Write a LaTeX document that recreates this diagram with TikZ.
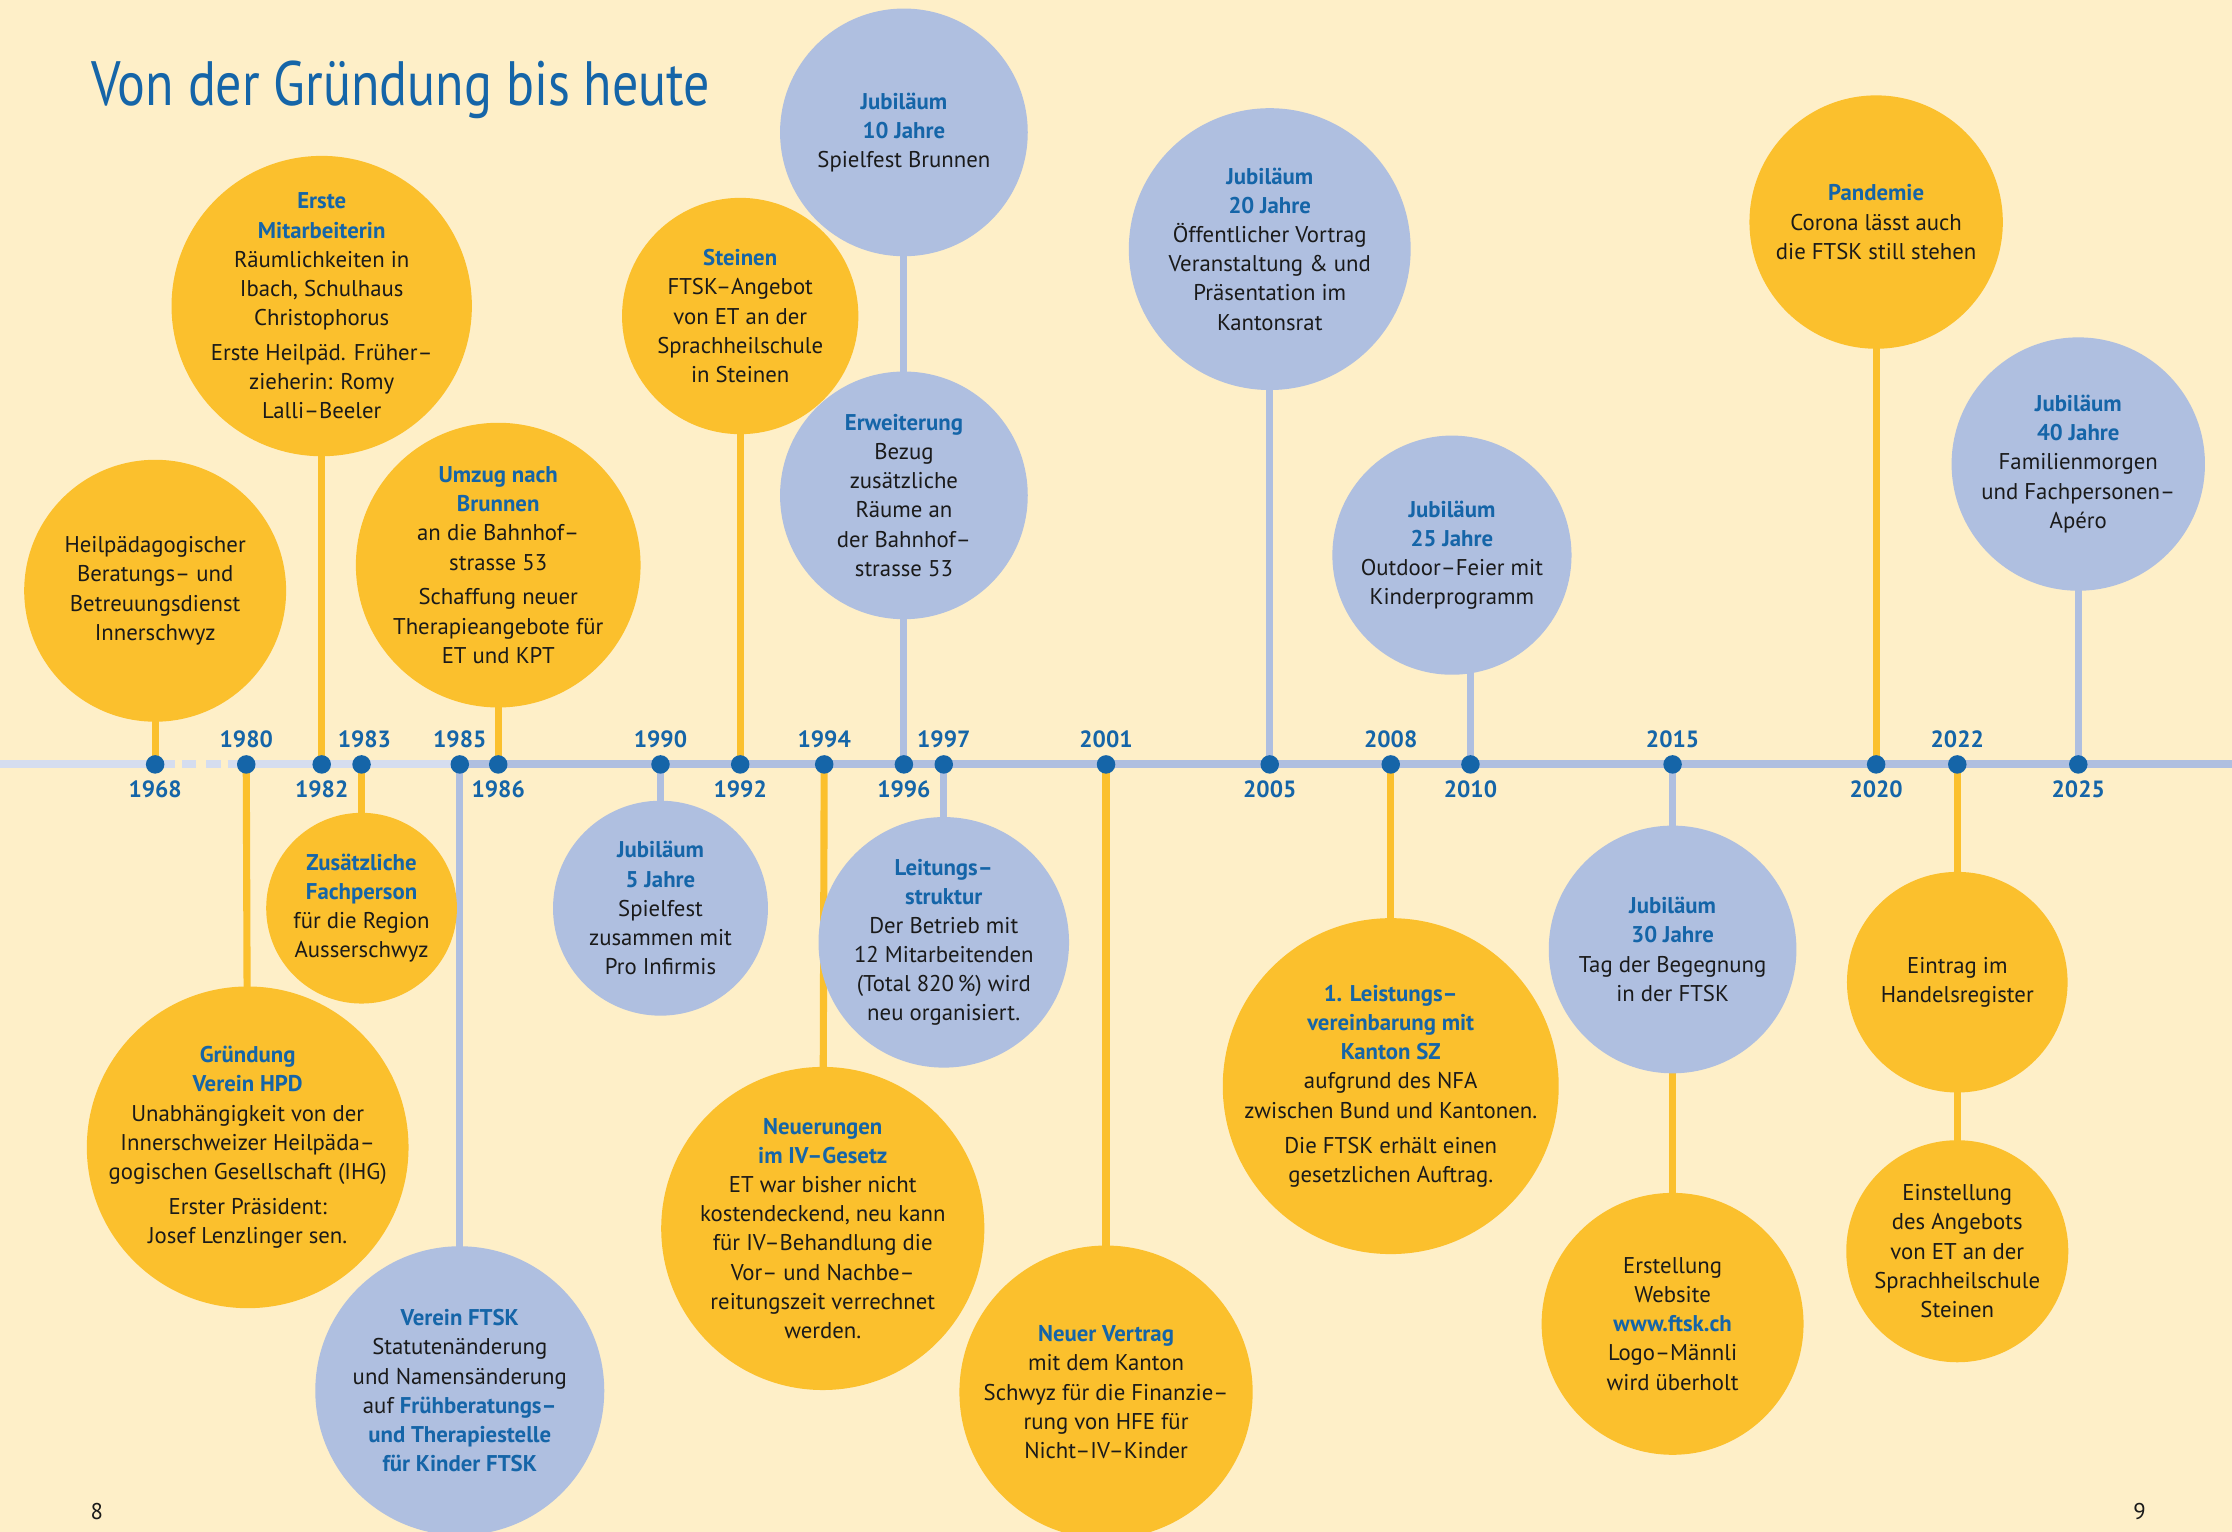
\documentclass[tikz,border=0pt]{standalone}
\usepackage{fontspec}
\setmainfont{PT Sans}
\newfontfamily\titlefont[FakeStretch=0.83]{PT Sans}
\usetikzlibrary{positioning,backgrounds}
\definecolor{cream}{HTML}{FEEFC8}
\definecolor{ftyellow}{HTML}{FBC02D}
\definecolor{ftblue}{HTML}{AFBFE0}
\definecolor{ftpale}{HTML}{D5DDEF}
\definecolor{ftdark}{HTML}{1565A8}
\definecolor{ftink}{HTML}{1A1A1A}
\newcommand{\evt}[1]{{\bfseries\color{ftdark}#1}}
\tikzset{
  bubble/.style={circle, inner sep=-40pt, align=center, text=ftink,
    font=\fontsize{16}{20.5}\selectfont},
  yelbub/.style={bubble, fill=ftyellow},
  blubub/.style={bubble, fill=ftblue},
  yeardot/.style={circle, fill=ftdark, minimum size=13pt, inner sep=0pt},
  yrlabel/.style={inner sep=0pt, text=ftdark, font=\fontsize{16.5}{18}\selectfont\bfseries},
  yconn/.style={ftyellow, line width=5pt},
  bconn/.style={ftblue, line width=5pt},
  axis/.style={line width=5.5pt}
}

\begin{document}
\begin{tikzpicture}[x=1pt, y=-1pt]
  \useasboundingbox (0,0) rectangle (1568,1076);

  % title and page numbers
  \node[anchor=base west, inner sep=0pt, text=ftdark, font=\titlefont\fontsize{44}{48}\selectfont] (title) at (64,74) {Von der Gründung bis heute};
  \node[text=ftink, font=\fontsize{16}{18}\selectfont] (pleft) at (68,1062) {8};
  \node[text=ftink, font=\fontsize{16}{18}\selectfont] (pright) at (1503,1062) {9};

  % dots on the time line
  \node[yeardot] (d1968) at (109,537) {};
  \node[yeardot] (d1980) at (173,537) {};
  \node[yeardot] (d1982) at (226,537) {};
  \node[yeardot] (d1983) at (254,537) {};
  \node[yeardot] (d1985) at (323,537) {};
  \node[yeardot] (d1986) at (350,537) {};
  \node[yeardot] (d1990) at (464,537) {};
  \node[yeardot] (d1992) at (520,537) {};
  \node[yeardot] (d1994) at (579,537) {};
  \node[yeardot] (d1996) at (635,537) {};
  \node[yeardot] (d1997) at (663,537) {};
  \node[yeardot] (d2001) at (777,537) {};
  \node[yeardot] (d2005) at (892,537) {};
  \node[yeardot] (d2008) at (977,537) {};
  \node[yeardot] (d2010) at (1033,537) {};
  \node[yeardot] (d2015) at (1175,537) {};
  \node[yeardot] (d2020) at (1318,537) {};
  \node[yeardot] (d2022) at (1375,537) {};
  \node[yeardot] (d2025) at (1460,537) {};

  % years
  \node[yrlabel, below=4.5pt of d1968] (t1968) {1968};
  \node[yrlabel, above=4.5pt of d1980] (t1980) {1980};
  \node[yrlabel, below=4.5pt of d1982] (t1982) {1982};
  \node[yrlabel, above=4.5pt of d1983, xshift=2pt] (t1983) {1983};
  \node[yrlabel, above=4.5pt of d1985] (t1985) {1985};
  \node[yrlabel, below=4.5pt of d1986] (t1986) {1986};
  \node[yrlabel, above=4.5pt of d1990] (t1990) {1990};
  \node[yrlabel, below=4.5pt of d1992] (t1992) {1992};
  \node[yrlabel, above=4.5pt of d1994] (t1994) {1994};
  \node[yrlabel, below=4.5pt of d1996] (t1996) {1996};
  \node[yrlabel, above=4.5pt of d1997] (t1997) {1997};
  \node[yrlabel, above=4.5pt of d2001] (t2001) {2001};
  \node[yrlabel, below=4.5pt of d2005] (t2005) {2005};
  \node[yrlabel, above=4.5pt of d2008] (t2008) {2008};
  \node[yrlabel, below=4.5pt of d2010] (t2010) {2010};
  \node[yrlabel, above=4.5pt of d2015] (t2015) {2015};
  \node[yrlabel, below=4.5pt of d2020] (t2020) {2020};
  \node[yrlabel, above=4.5pt of d2022] (t2022) {2022};
  \node[yrlabel, below=4.5pt of d2025] (t2025) {2025};

  % events above the line
  \node[yelbub, minimum size=184pt] (c1968) at (109,415)
    {Heilpädagogischer\\Beratungs– und\\Betreuungsdienst\\Innerschwyz};
  \node[yelbub, minimum size=211pt] (c1982) at (226,215)
    {\evt{Erste}\\\evt{Mitarbeiterin}\\Räumlichkeiten in\\Ibach, Schulhaus\\Christophorus\\[4pt]Erste Heilpäd. Früher–\\zieherin: Romy\\Lalli–Beeler};
  \node[yelbub, minimum size=200pt] (c1986) at (350,397)
    {\evt{Umzug nach}\\\evt{Brunnen}\\an die Bahnhof–\\strasse 53\\[4pt]Schaffung neuer\\Therapieangebote für\\ET und KPT};
  \node[yelbub, minimum size=166pt] (c1992) at (520,222)
    {\evt{Steinen}\\FTSK–Angebot\\von ET an der\\Sprachheilschule\\in Steinen};
  \node[blubub, minimum size=174pt] (c1996a) at (635,93)
    {\evt{Jubiläum}\\\evt{10 Jahre}\\Spielfest Brunnen};
  \node[blubub, minimum size=174pt] (c1996b) at (635,348)
    {\evt{Erweiterung}\\Bezug\\zusätzliche\\Räume an\\der Bahnhof–\\strasse 53};
  \node[blubub, minimum size=198pt] (c2005) at (892,175)
    {\evt{Jubiläum}\\\evt{20 Jahre}\\Öffentlicher Vortrag\\Veranstaltung \& und\\Präsentation im\\Kantonsrat};
  \node[blubub, minimum size=168pt] (c2010) at (1020,390)
    {\evt{Jubiläum}\\\evt{25 Jahre}\\Outdoor–Feier mit\\Kinderprogramm};
  \node[yelbub, minimum size=178pt] (c2020) at (1318,156)
    {\evt{Pandemie}\\Corona lässt auch\\die FTSK still stehen};
  \node[blubub, minimum size=178pt] (c2025) at (1460,326)
    {\evt{Jubiläum}\\\evt{40 Jahre}\\Familienmorgen\\und Fachpersonen–\\Apéro};

  % events below the line
  \node[yelbub, minimum size=226pt] (c1980) at (174,806)
    {\evt{Gründung}\\\evt{Verein HPD}\\Unabhängigkeit von der\\Innerschweizer Heilpäda–\\gogischen Gesellschaft (IHG)\\[4pt]Erster Präsident:\\Josef Lenzlinger sen.};
  \node[yelbub, minimum size=134pt] (c1983) at (254,638)
    {\evt{Zusätzliche}\\\evt{Fachperson}\\für die Region\\Ausserschwyz};
  \node[blubub, minimum size=203pt] (c1985) at (323,977)
    {\evt{Verein FTSK}\\Statutenänderung\\und Namensänderung\\auf \evt{Frühberatungs–}\\\evt{und Therapiestelle}\\\evt{für Kinder FTSK}};
  \node[blubub, minimum size=151pt] (c1990) at (464,638)
    {\evt{Jubiläum}\\\evt{5 Jahre}\\Spielfest\\zusammen mit\\Pro Infirmis};
  \node[yelbub, minimum size=227pt] (c1994) at (578,863)
    {\evt{Neuerungen}\\\evt{im IV–Gesetz}\\ET war bisher nicht\\kostendeckend, neu kann\\für IV–Behandlung die\\Vor– und Nachbe–\\reitungszeit verrechnet\\werden.};
  \node[blubub, minimum size=176pt] (c1997) at (663,662)
    {\evt{Leitungs–}\\\evt{struktur}\\Der Betrieb mit\\12 Mitarbeitenden\\(Total 820\,\%) wird\\neu organisiert.};
  \node[yelbub, minimum size=206pt] (c2001) at (777,978)
    {\evt{Neuer Vertrag}\\mit dem Kanton\\Schwyz für die Finanzie–\\rung von HFE für\\Nicht–IV–Kinder};
  \node[yelbub, minimum size=236pt] (c2008) at (977,763)
    {\evt{1. Leistungs–}\\\evt{vereinbarung mit}\\\evt{Kanton SZ}\\aufgrund des NFA\\zwischen Bund und Kantonen.\\[4pt]Die FTSK erhält einen\\gesetzlichen Auftrag.};
  \node[blubub, minimum size=174pt] (c2015a) at (1175,667)
    {\evt{Jubiläum}\\\evt{30 Jahre}\\Tag der Begegnung\\in der FTSK};
  \node[yelbub, minimum size=184pt] (c2015b) at (1175,930)
    {Erstellung\\Website\\\evt{www.ftsk.ch}\\Logo–Männli\\wird überholt};
  \node[yelbub, minimum size=155pt] (c2022a) at (1375,690)
    {Eintrag im\\Handelsregister};
  \node[yelbub, minimum size=156pt] (c2022b) at (1375,879)
    {Einstellung\\des Angebots\\von ET an der\\Sprachheilschule\\Steinen};

  \begin{scope}[on background layer]
    \fill[cream] (0,0) rectangle (1568,1076);
    % time line
    \draw[axis, ftpale] (0,537) -- (d1968.center);
    \draw[axis, ftpale, dash pattern=on 14pt off 5pt on 10pt off 7pt on 10pt off 5pt on 30pt off 1pt] (d1968.center) -- (d1980.center);
    \draw[axis, ftpale] (d1980.center) -- (d1985.center);
    \draw[axis, ftblue] (d1985.center) -- (1568,537);
    % connectors
    \draw[yconn] (d1968.center) -- (c1968.center);
    \draw[yconn] (d1982.center) -- (c1982.center);
    \draw[yconn] (d1986.center) -- (c1986.center);
    \draw[yconn] (d1992.center) -- (c1992.center);
    \draw[bconn] (d1996.center) -- (c1996b.center) -- (c1996a.center);
    \draw[bconn] (d2005.center) -- (c2005.center);
    \draw[bconn] (d2010.center) -- (d2010.center |- c2010.center);
    \draw[yconn] (d2020.center) -- (c2020.center);
    \draw[bconn] (d2025.center) -- (c2025.center);
    \draw[yconn] (d1980.center) -- (c1980.center);
    \draw[yconn] (d1983.center) -- (c1983.center);
    \draw[bconn] (d1985.center) -- (c1985.center);
    \draw[bconn] (d1990.center) -- (c1990.center);
    \draw[yconn] (d1994.center) -- (c1994.center);
    \draw[bconn] (d1997.center) -- (c1997.center);
    \draw[yconn] (d2001.center) -- (c2001.center);
    \draw[yconn] (d2008.center) -- (c2008.center);
    \draw[bconn] (d2015.center) -- (c2015a.center);
    \draw[yconn] (c2015a.center) -- (c2015b.center);
    \draw[yconn] (d2022.center) -- (c2022a.center) -- (c2022b.center);
  \end{scope}
\end{tikzpicture}
\end{document}
